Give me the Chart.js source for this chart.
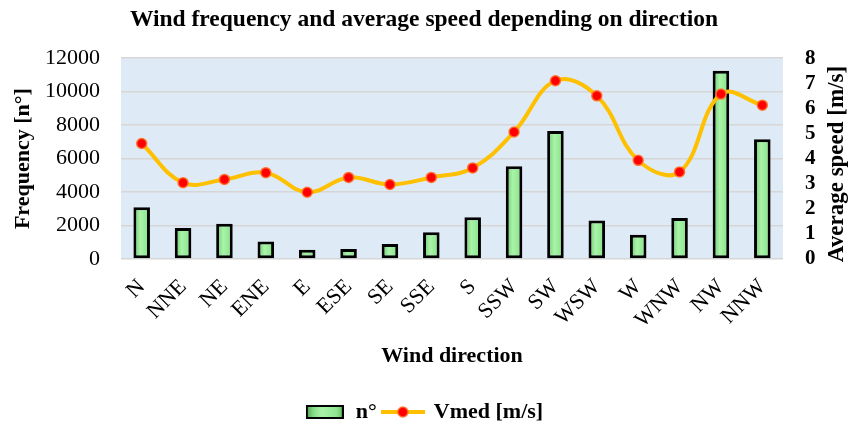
<!DOCTYPE html>
<html>
<head>
<meta charset="utf-8">
<style>
  html, body { margin: 0; padding: 0; background: #ffffff; }
  #wrap { width: 848px; height: 427px; }
</style>
<script src="https://cdn.jsdelivr.net/npm/chart.js@4.4.1/dist/chart.umd.min.js"></script>
</head>
<body>
<div id="wrap"><canvas id="chart" width="848" height="427"></canvas></div>
<script>
// Wind directions (16-point compass)
const directions = ['N', 'NNE', 'NE', 'ENE', 'E', 'ESE', 'SE', 'SSE', 'S', 'SSW', 'SW', 'WSW', 'W', 'WNW', 'NW', 'NNW'];
// Number of records per direction
const frequency = [3100, 1850, 2100, 1050, 550, 600, 900, 1600, 2500, 5550, 7650, 2300, 1450, 2450, 11250, 7150];
// Mean wind speed per direction [m/s]
const meanSpeed = [4.6, 3.04, 3.17, 3.44, 2.66, 3.25, 2.97, 3.25, 3.63, 5.06, 7.1, 6.5, 3.93, 3.47, 6.57, 6.13];
// Axis ticks
const freqTicks = [0, 2000, 4000, 6000, 8000, 10000, 12000];
const speedTicks = [0, 1, 2, 3, 4, 5, 6, 7, 8];

const SERIF = "'Liberation Serif', 'Times New Roman', serif";
Chart.defaults.font.family = SERIF;
Chart.defaults.color = '#000000';

const GOLD = '#FFC000';
const RED = '#FF0000';
const PLOT_BG = '#DEEAF6';
const GRID = '#D6D6D6';
const BAR_FRACTION = 0.4;

function greenFill(ctx, x0, x1) {
  const g = ctx.createLinearGradient(x0, 0, x1, 0);
  g.addColorStop(0, '#4e9e4e');
  g.addColorStop(0.2, '#86dc86');
  g.addColorStop(0.42, '#aaf3aa');
  g.addColorStop(0.8, '#90e890');
  g.addColorStop(1, '#62b862');
  return g;
}

// Legend swatches
function barSwatch() {
  const c = document.createElement('canvas');
  c.width = 38; c.height = 14;
  const g = c.getContext('2d');
  g.fillStyle = greenFill(g, 0, 38);
  g.fillRect(1, 1, 36, 12);
  g.lineWidth = 2;
  g.strokeStyle = '#000000';
  g.strokeRect(1, 1, 36, 12);
  return c;
}
function lineSwatch() {
  const c = document.createElement('canvas');
  c.width = 44; c.height = 14;
  const g = c.getContext('2d');
  g.strokeStyle = GOLD;
  g.lineWidth = 4;
  g.beginPath(); g.moveTo(0, 7); g.lineTo(44, 7); g.stroke();
  g.beginPath(); g.arc(22, 7, 5, 0, Math.PI * 2);
  g.fillStyle = RED; g.fill();
  g.lineWidth = 1.5; g.strokeStyle = 'rgba(255,110,40,0.9)'; g.stroke();
  return c;
}

const plotBackground = {
  id: 'plotBackground',
  beforeDraw(chart) {
    const { ctx, chartArea: a } = chart;
    ctx.save();
    ctx.fillStyle = PLOT_BG;
    ctx.fillRect(a.left, a.top, a.right - a.left, a.bottom - a.top);
    ctx.restore();
  }
};

// Right-hand axis title, reading bottom to top
const speedAxisTitle = {
  id: 'speedAxisTitle',
  afterDraw(chart) {
    const { ctx } = chart;
    ctx.save();
    ctx.translate(837, 164);
    ctx.rotate(-Math.PI / 2);
    ctx.font = 'bold 23px ' + SERIF;
    ctx.fillStyle = '#000000';
    ctx.textAlign = 'center';
    ctx.textBaseline = 'middle';
    ctx.fillText('Average speed [m/s]', 0, 0);
    ctx.restore();
  }
};

const plainNumber = v => String(v);

new Chart(document.getElementById('chart'), {
  data: {
    labels: directions,
    datasets: [
      {
        type: 'line',
        label: 'Vmed [m/s]',
        data: meanSpeed,
        yAxisID: 'ySpeed',
        order: 0,
        borderColor: GOLD,
        borderWidth: 4,
        tension: 0.4,
        pointRadius: 5,
        pointBackgroundColor: RED,
        pointBorderColor: 'rgba(255,110,40,0.9)',
        pointBorderWidth: 1.5,
        pointHoverRadius: 5
      },
      {
        type: 'bar',
        label: 'n°',
        data: frequency,
        yAxisID: 'yFreq',
        order: 1,
        categoryPercentage: 1,
        barPercentage: BAR_FRACTION,
        borderColor: '#000000',
        borderWidth: 3,
        borderSkipped: false,
        backgroundColor(c) {
          const chart = c.chart;
          const xs = chart.scales && chart.scales.x;
          if (!xs || !chart.chartArea || c.dataIndex === undefined) return '#92ea92';
          const cx = xs.getPixelForValue(c.dataIndex);
          const w = (xs.width / directions.length) * BAR_FRACTION;
          return greenFill(chart.ctx, cx - w / 2, cx + w / 2);
        }
      }
    ]
  },
  options: {
    responsive: false,
    animation: false,
    devicePixelRatio: 1,
    layout: { padding: { top: 0, left: 0, right: 0, bottom: -6 } },
    events: [],
    plugins: {
      title: {
        display: true,
        text: 'Wind frequency and average speed depending on direction',
        color: '#000000',
        font: { size: 23.5, weight: 'bold', family: SERIF },
        padding: { top: 6, bottom: 24 }
      },
      legend: {
        display: true,
        position: 'bottom',
        reverse: true,
        labels: {
          color: '#000000',
          font: { size: 22, weight: 'bold', family: SERIF },
          padding: 6,
          usePointStyle: true,
          pointStyleWidth: 40,
          generateLabels(chart) {
            return chart.data.datasets.map((ds, i) => ({
              text: ds.label,
              datasetIndex: i,
              fontColor: '#000000',
              hidden: false,
              lineWidth: 0,
              pointStyle: ds.type === 'bar' ? barSwatch() : lineSwatch()
            }));
          }
        }
      },
      tooltip: { enabled: false }
    },
    scales: {
      x: {
        type: 'category',
        offset: true,
        grid: { display: false, drawTicks: false },
        border: { display: false },
        ticks: {
          autoSkip: false,
          maxRotation: 45,
          minRotation: 45,
          padding: 15,
          color: '#000000',
          font: { size: 22, family: SERIF }
        },
        title: {
          display: true,
          text: 'Wind direction',
          color: '#000000',
          font: { size: 22, weight: 'bold', family: SERIF, lineHeight: 1 },
          padding: { top: 0, bottom: 28 }
        },
        afterFit(s) { s.height = 136; }
      },
      yFreq: {
        type: 'linear',
        position: 'left',
        min: 0,
        max: 12000,
        afterBuildTicks(s) { s.ticks = freqTicks.map(v => ({ value: v })); },
        grid: { color: GRID, lineWidth: 1.5, drawTicks: false },
        border: { display: false },
        ticks: {
          autoSkip: false,
          padding: 21,
          color: '#000000',
          font: { size: 22, family: SERIF },
          callback: plainNumber
        },
        title: {
          display: true,
          text: 'Frequency [n°]',
          color: '#000000',
          font: { size: 22, weight: 'bold', family: SERIF, lineHeight: 1 },
          padding: { top: 12, bottom: 0 }
        },
        afterFit(s) { s.width = 121; }
      },
      ySpeed: {
        type: 'linear',
        position: 'right',
        min: 0,
        max: 8,
        afterBuildTicks(s) { s.ticks = speedTicks.map(v => ({ value: v })); },
        grid: { display: false, drawTicks: false },
        border: { display: false },
        ticks: {
          autoSkip: false,
          padding: 22,
          color: '#000000',
          font: { size: 21, weight: 'bold', family: SERIF },
          callback: plainNumber
        },
        title: { display: false },
        afterFit(s) { s.width = 65; }
      }
    }
  },
  plugins: [plotBackground, speedAxisTitle]
});
</script>
</body>
</html>
